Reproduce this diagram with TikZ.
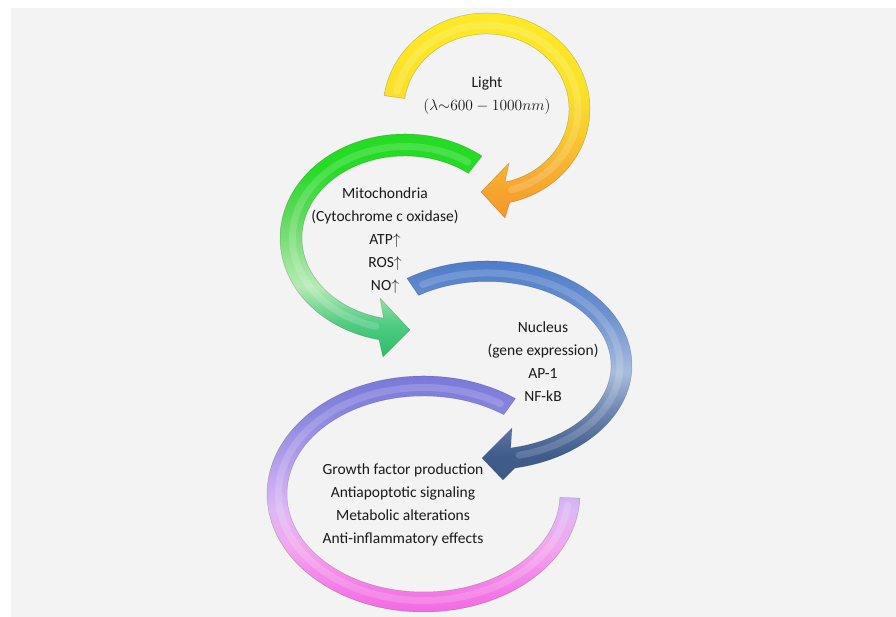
\RequirePackage{fix-cm}
\documentclass[tikz,border=0pt]{standalone}
\usepackage[no-math]{fontspec}
\setmainfont{Carlito}

% ring colours
\definecolor{panel}{HTML}{F3F3F3}
\definecolor{ylwA}{HTML}{FDEB24}
\definecolor{ylwB}{HTML}{FAE128}
\definecolor{ylwC}{HTML}{F8CB2E}
\definecolor{ylwD}{HTML}{F7AC31}
\definecolor{ylwE}{HTML}{F5972A}
\definecolor{grnA}{HTML}{25DC25}
\definecolor{grnB}{HTML}{5ED95E}
\definecolor{grnC}{HTML}{B7EAB5}
\definecolor{grnD}{HTML}{4FCB82}
\definecolor{grnE}{HTML}{2CBF6A}
\definecolor{bluA}{HTML}{4677C8}
\definecolor{bluB}{HTML}{6F93D0}
\definecolor{bluC}{HTML}{A8BCDD}
\definecolor{bluD}{HTML}{7088B0}
\definecolor{bluE}{HTML}{3E5B8A}
\definecolor{prpA}{HTML}{7373D8}
\definecolor{prpB}{HTML}{8A86DE}
\definecolor{prpC}{HTML}{B9A2EC}
\definecolor{prpD}{HTML}{DDB8F5}
\definecolor{prpE}{HTML}{F2A6EE}
\definecolor{prpF}{HTML}{F47AE6}
\definecolor{prpG}{HTML}{F060E0}

% vertical shadings, 25bp..75bp is the path box
\pgfdeclareverticalshading{yellowring}{100bp}{color(0bp)=(ylwE); color(25bp)=(ylwE);
  color(35bp)=(ylwD); color(45bp)=(ylwC); color(55bp)=(ylwB); color(75bp)=(ylwA); color(100bp)=(ylwA)}
\pgfdeclareverticalshading{greenring}{100bp}{color(0bp)=(grnE); color(25bp)=(grnE);
  color(32bp)=(grnD); color(40bp)=(grnC); color(55bp)=(grnB); color(65bp)=(grnA); color(100bp)=(grnA)}
\pgfdeclareverticalshading{bluering}{100bp}{color(0bp)=(bluE); color(25bp)=(bluE);
  color(30bp)=(bluE); color(40bp)=(bluD); color(48bp)=(bluC); color(60bp)=(bluB); color(75bp)=(bluA); color(100bp)=(bluA)}
\pgfdeclareverticalshading{purplering}{100bp}{color(0bp)=(prpG); color(25bp)=(prpG);
  color(32bp)=(prpF); color(40bp)=(prpE); color(47bp)=(prpD); color(55bp)=(prpC); color(65bp)=(prpB); color(75bp)=(prpA); color(100bp)=(prpA)}

\begin{document}
\begin{tikzpicture}[x=1pt, y=1pt,
        ring/.style={shade, shading=#1, draw=black, draw opacity=0.2, line width=0.5pt, line join=round},
        gloss/.style={white, opacity=0.16, line width=7pt, line cap=round},
        lbl/.style={align=center, font=\fontsize{15.5}{23}\selectfont, text=black!90}]
    \useasboundingbox (0,0) rectangle (896,617);
    \fill[white] (0,0) rectangle (896,617);
    \fill[panel] (11,0) rectangle (896,609);

    % ring centres
    \coordinate (yc) at (486.5,508);
    \coordinate (gc) at (405,379);
    \coordinate (bc) at (487,251.5);
    \coordinate (pc) at (423.5,123);

    % effects ring, open end on the right
    \path[ring=purplering] ([shift={(pc)}]54:156.5 and 118)
        arc[start angle=54, end angle=358, x radius=156.5, y radius=118]
        -- ([shift={(pc)}]358:136.5 and 98)
        arc[start angle=358, end angle=54, x radius=136.5, y radius=98] -- cycle;
    \draw[gloss] ([shift={(pc)}]58:145 and 106.5) arc[start angle=58, end angle=354, x radius=145, y radius=106.5];

    % nucleus ring
    \path[ring=bluering] ([shift={(bc)}]123.5:145 and 104.5)
        arc[start angle=123.5, end angle=-79, x radius=145, y radius=104.5]
        -- (503,137) -- (482,159) -- (512,189)
        -- ([shift={(bc)}]-79:124 and 84)
        arc[start angle=-79, end angle=123.5, x radius=124, y radius=84] -- cycle;
    \draw[gloss] ([shift={(bc)}]119:133 and 92.5) arc[start angle=119, end angle=-76, x radius=133, y radius=92.5];

    % mitochondria ring
    \path[ring=greenring] ([shift={(gc)}]52:125 and 104)
        arc[start angle=52, end angle=258, x radius=125, y radius=104]
        -- (383,260) -- (410,287) -- (380,319)
        -- ([shift={(gc)}]258:103 and 82)
        arc[start angle=258, end angle=52, x radius=103, y radius=82] -- cycle;
    \draw[gloss] ([shift={(gc)}]56:112.5 and 91.5) arc[start angle=56, end angle=255, x radius=112.5, y radius=91.5];

    % light ring
    \path[ring=yellowring] ([shift={(yc)}]172:103.5 and 96)
        arc[start angle=172, end angle=-77, x radius=103.5, y radius=96]
        -- (505,399) -- (481,425) -- (509,454)
        -- ([shift={(yc)}]-77:82.5 and 75)
        arc[start angle=-77, end angle=172, x radius=82.5, y radius=75] -- cycle;
    \draw[gloss] ([shift={(yc)}]168:91.5 and 84) arc[start angle=168, end angle=-74, x radius=91.5, y radius=84];

    % labels
    \node[lbl] (light) at (487,521) {Light\\\((\lambda{\sim}600-1000nm)\)};
    \node[lbl] (mito) at (385,376.5) {Mitochondria\\(Cytochrome c oxidase)\\ATP\(\uparrow\)\\ROS\(\uparrow\)\\NO\(\uparrow\)};
    \node[lbl] (nucleus) at (543,255) {Nucleus\\(gene expression)\\AP-1\\NF-kB};
    \node[lbl] (effects) at (403,112.5) {Growth factor production\\Antiapoptotic signaling\\Metabolic alterations\\Anti-inflammatory effects};
\end{tikzpicture}
\end{document}
